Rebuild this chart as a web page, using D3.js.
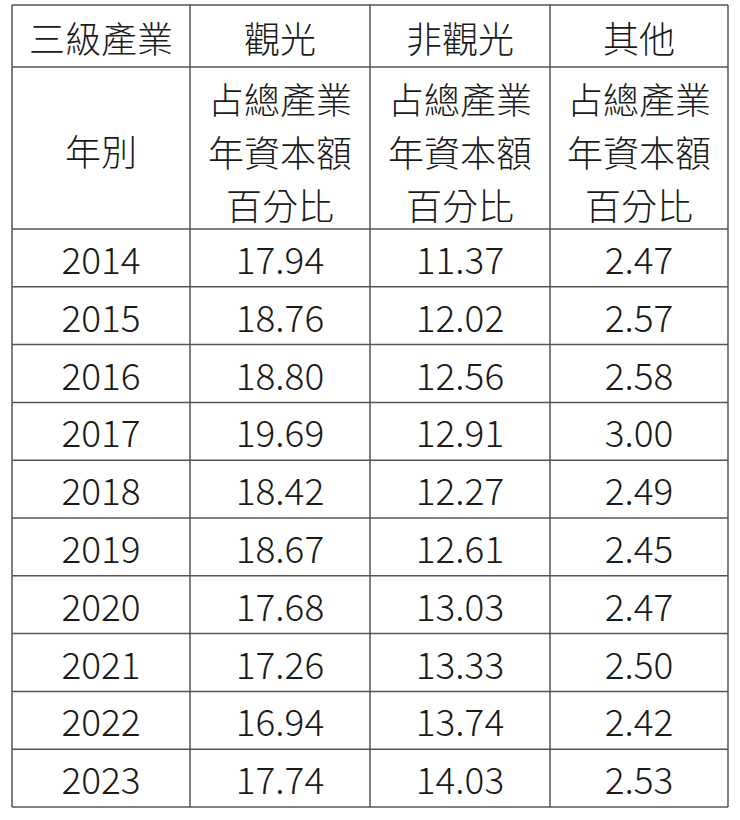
<!DOCTYPE html>
<html><head><meta charset="utf-8">
<script src="https://cdn.jsdelivr.net/npm/d3@7"></script>
<style>body{margin:0;background:#fff}</style></head>
<body><svg id="c" width="740" height="820"></svg>
<script>
const columns = ["三級產業","觀光","非觀光","其他"];
const subHeader = ["占總產業","年資本額","百分比"];
const years = ["2014","2015","2016","2017","2018","2019","2020","2021","2022","2023"];
const tourism = ["17.94","18.76","18.80","19.69","18.42","18.67","17.68","17.26","16.94","17.74"];
const nonTourism = ["11.37","12.02","12.56","12.91","12.27","12.61","13.03","13.33","13.74","14.03"];
const other = ["2.47","2.57","2.58","3.00","2.49","2.45","2.47","2.50","2.42","2.53"];

const svg = d3.select("#c");
const colX = [12,190,370,550,728];
const font = "'Noto Sans CJK TC','Noto Sans',sans-serif";
const top0 = 5, h1 = 67, h2 = 229, bottom = 807;
const y = d3.scaleBand().domain(years).range([h2, bottom]);
const stroke = "#555";
const hLines = [top0, h1, ...years.map(d=>y(d)), bottom];
svg.selectAll("line.h").data(hLines).join("line")
  .attr("x1",colX[0]).attr("x2",colX[4]).attr("y1",d=>d).attr("y2",d=>d)
  .attr("stroke",stroke).attr("stroke-width",1.5);
svg.selectAll("line.v").data(colX).join("line")
  .attr("x1",d=>d).attr("x2",d=>d).attr("y1",top0).attr("y2",bottom)
  .attr("stroke",stroke).attr("stroke-width",1.5);
const cx = i => (colX[i]+colX[i+1])/2;
const txt = (x,yy,s,sz) => svg.append("text").attr("x",x).attr("y",yy)
  .attr("text-anchor","middle").attr("dominant-baseline","central")
  .attr("font-family",font).attr("font-size",sz||36).attr("font-weight",300)
  .attr("fill","#1a1a1a").text(s);
columns.forEach((c,i)=>txt(cx(i),37,c));
txt(cx(0),150,"年別");
for(let i=1;i<4;i++) subHeader.forEach((s,j)=>txt(cx(i),98+j*53,s));
const cols = [years,tourism,nonTourism,other];
years.forEach((yr,r)=>{
  cols.forEach((arr,i)=>txt(cx(i),y(yr)+y.bandwidth()/2,arr[r],37));
});
</script></body></html>
